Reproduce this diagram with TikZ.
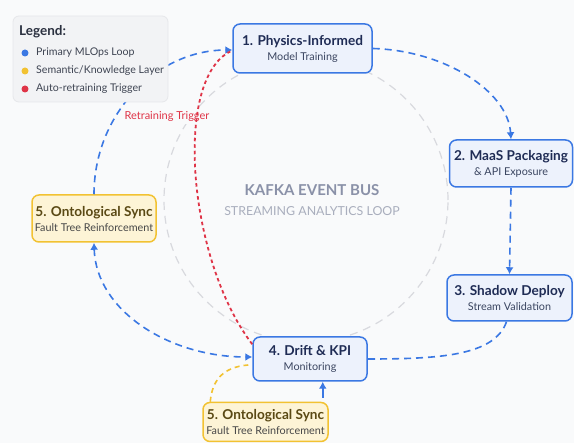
\documentclass[tikz,border=0pt]{standalone}
\usepackage{fontspec}
\setmainfont{Lato}
\usetikzlibrary{arrows.meta,calc}
\definecolor{bgc}{HTML}{F9FAFB}
\definecolor{blueM}{HTML}{3B78E3}
\definecolor{blueL}{HTML}{EDF2FC}
\definecolor{navy}{HTML}{1F2C55}
\definecolor{subc}{HTML}{3A4560}
\definecolor{yelM}{HTML}{F2C232}
\definecolor{yelL}{HTML}{FDF4D6}
\definecolor{olive}{HTML}{5A4914}
\definecolor{ysub}{HTML}{474747}
\definecolor{redM}{HTML}{DF3447}
\definecolor{grayC}{HTML}{D8D9DE}
\definecolor{kafka}{HTML}{8A91A8}
\definecolor{kafkasub}{HTML}{A9AEBD}
\definecolor{legF}{HTML}{F2F3F5}
\definecolor{legD}{HTML}{E6E7EA}
\definecolor{legT}{HTML}{2B3140}
\definecolor{legI}{HTML}{3E4452}
\newcommand\ttlfont{\fontsize{13.6}{15}\selectfont\bfseries}
\newcommand\subfont{\fontsize{10.8}{12}\selectfont}
\begin{document}
\begin{tikzpicture}[x=1pt,y=-1pt,
  bluebox/.style={draw=blueM, fill=blueL, line width=1.5pt, rounded corners=7pt, align=center, inner sep=0pt},
  yelbox/.style={draw=yelM, fill=yelL, line width=1.5pt, rounded corners=7pt, align=center, inner sep=0pt},
  blueflow/.style={draw=blueM, line width=1.6pt, dash pattern=on 7pt off 5pt},
  redflow/.style={draw=redM, line width=1.8pt, dash pattern=on 3.5pt off 3pt},
  yelflow/.style={draw=yelM, line width=1.6pt, dash pattern=on 5pt off 4pt},
  tip/.style={-{Latex[length=7pt,width=8pt]}},
  tips/.style={{Latex[length=7pt,width=8pt]}-{Latex[length=7pt,width=8pt]}},
  dotm/.style={circle, inner sep=0pt, minimum size=7pt},
  legtext/.style={anchor=west, inner sep=0pt, text=legI, font=\fontsize{10.6}{12}\selectfont}
]
\fill[bgc] (0,0) rectangle (574,443);
\useasboundingbox (0,0) rectangle (574,443);

% Kafka bus circle
\node[circle, draw=grayC, line width=1.2pt, dash pattern=on 8pt off 6pt, minimum size=284pt, inner sep=0pt] (bus) at (306,200) {};
\node[text=kafka, font=\fontsize{15}{17}\selectfont\bfseries, inner sep=0pt] (kt) at (312,190) {KAFKA EVENT BUS};
\node[text=kafkasub, font=\fontsize{12.4}{14}\selectfont, inner sep=0pt] (ks) at (312,211) {STREAMING ANALYTICS LOOP};

% nodes
\node[bluebox, minimum width=139pt, minimum height=49pt] (n1) at (302.5,48.5)
  {{\ttlfont\color{navy}1. Physics-Informed}\\[3pt]{\subfont\color{subc}Model Training}};
\node[bluebox, minimum width=123pt, minimum height=47pt] (n2) at (511,163.5)
  {{\ttlfont\color{navy}2. MaaS Packaging}\\[3pt]{\subfont\color{subc}\& API Exposure}};
\node[bluebox, minimum width=125pt, minimum height=46pt] (n3) at (509.5,298)
  {{\ttlfont\color{navy}3. Shadow Deploy}\\[3pt]{\subfont\color{subc}Stream Validation}};
\node[bluebox, minimum width=114pt, minimum height=44pt] (n4) at (310,359)
  {{\ttlfont\color{navy}4. Drift \& KPI}\\[3pt]{\subfont\color{subc}Monitoring}};
\node[yelbox, minimum width=124pt, minimum height=47pt] (n5a) at (94,218.5)
  {{\ttlfont\color{olive}5. Ontological Sync}\\[3pt]{\subfont\color{ysub}Fault Tree Reinforcement}};
\node[yelbox, minimum width=125pt, minimum height=39pt] (n5b) at (265.5,422)
  {{\ttlfont\color{olive}5. Ontological Sync}\\[3pt]{\subfont\color{ysub}Fault Tree Reinforcement}};

% connectors
\draw[blueflow, tip] (n1.east) .. controls +(72,2) and +(-3,-48) .. (n2.north);
\draw[blueflow, tip] (n2.south) -- (n3.north);
\draw[blueflow] ($(n3.south)+(-3,0)$) .. controls +(-12,34) and +(72,0) .. ($(n4.east)+(0,0)$);
\draw[blueflow, tips] (n5a.south) .. controls +(2,68) and +(-83,0) .. ($(n4.west)+(0,-2)$);
\draw[blueflow, tip] (n5a.north) .. controls +(0,-80) and +(-76,0) .. ($(n1.west)+(0,1.5)$);

\node[text=redM, font=\fontsize{11}{12}\selectfont, inner sep=2.5pt, fill=bgc] (rt) at (167,116) {Retraining Trigger};

\draw[redflow] ($(n4.north west)+(0,8)$) .. controls (188,260) and (173,80) .. ($(n1.west)+(-2,3)$);
\draw[yelflow] ($(n5b.north west)+(8,0)$) .. controls +(2,-22) and +(-25,2) .. ($(n4.west)+(-4,6)$);
\coordinate (b5) at ($(n5b.north east)+(-6,-4)$);
\draw[draw=blueM, line width=1.6pt, tip] (b5) -- (b5 |- n4.south);

% legend
\node[draw=legD, fill=legF, line width=0.8pt, rounded corners=6pt, minimum width=155pt, minimum height=86pt, inner sep=0pt] (leg) at (90.5,59) {};
\node[anchor=west, inner sep=0pt, text=legT, font=\fontsize{13.5}{15}\selectfont\bfseries] (lt) at (19,32) {Legend:};
\node[dotm, fill=blueM] (d1) at (25,53) {};
\node[dotm, fill=yelM] (d2) at (25,71) {};
\node[dotm, fill=redM] (d3) at (25,89) {};
\node[legtext] (l1) at (36,53) {Primary MLOps Loop};
\node[legtext] (l2) at (36,71) {Semantic/Knowledge Layer};
\node[legtext] (l3) at (36,89) {Auto-retraining Trigger};
\end{tikzpicture}
\end{document}
